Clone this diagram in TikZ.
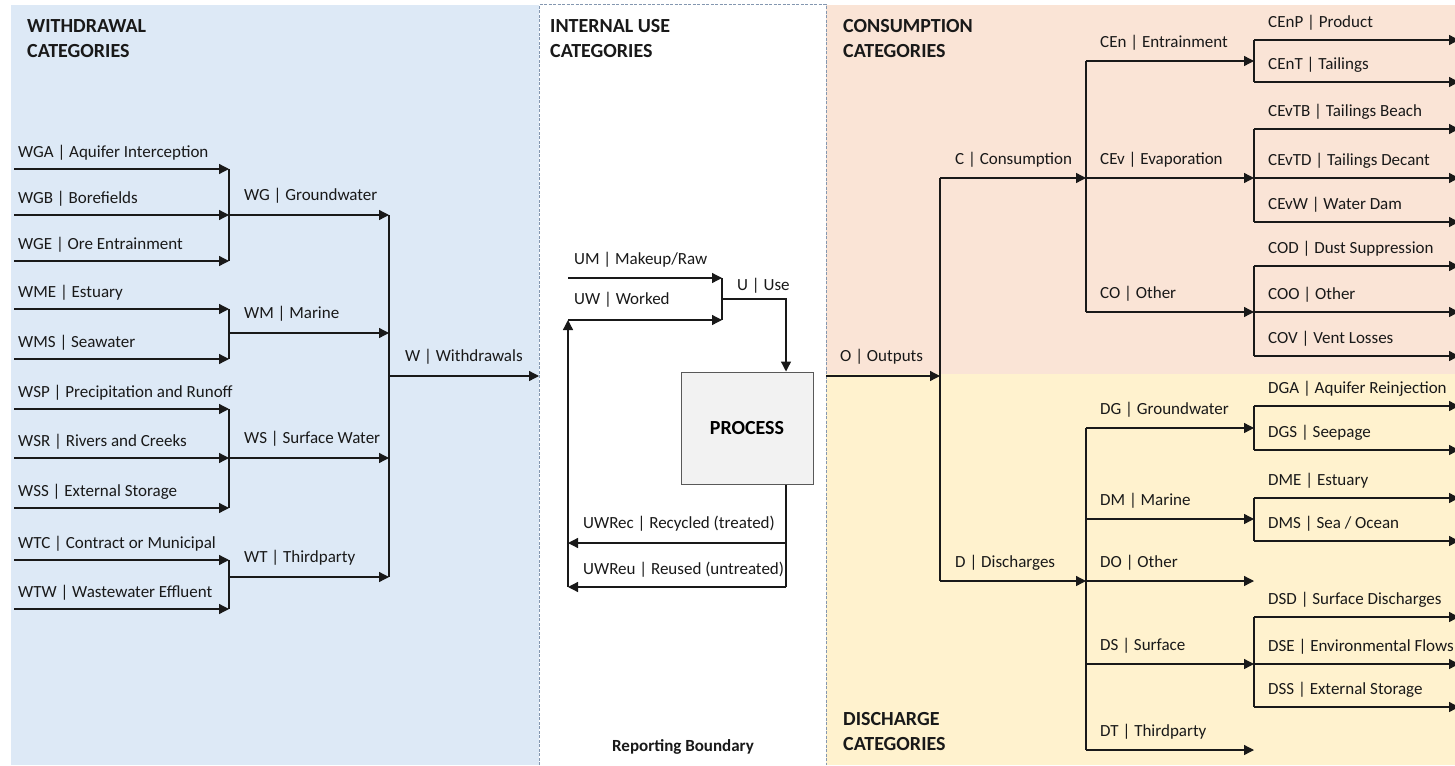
\documentclass[tikz,border=0pt]{standalone}
\usepackage{fontspec}
\setmainfont{Carlito}
\usetikzlibrary{arrows.meta}
\definecolor{wblue}{RGB}{221,233,246}
\definecolor{cpeach}{RGB}{250,228,214}
\definecolor{dyellow}{RGB}{255,242,206}
\definecolor{procgray}{RGB}{242,242,242}
\definecolor{bndgray}{RGB}{132,151,176}
\definecolor{ink}{RGB}{25,25,25}

\begin{document}
\begin{tikzpicture}[x=1pt,y=-1pt,
    flow/.style={-{Triangle[length=10pt,width=10pt]},line width=1.3pt,draw=ink},
    bar/.style={line width=1.3pt,draw=ink},
    lbl/.style={anchor=west,inner sep=0pt,text=ink,font=\fontsize{17}{19}\selectfont},
    ttl/.style={anchor=north west,align=left,inner sep=0pt,text=ink,font=\fontsize{20}{25}\selectfont\bfseries},
    procbox/.style={draw=black!65,fill=procgray,line width=1pt,minimum width=132pt,minimum height=112pt,font=\fontsize{20}{22}\selectfont\bfseries}]
    \useasboundingbox (0,0) rectangle (1455,765);
    % panels
    \fill[white] (0,0) rectangle (1455,765);
    \fill[wblue] (11,5) rectangle (539,765);
    \fill[cpeach] (826,5) rectangle (1455,374);
    \fill[dyellow] (826,374) rectangle (1455,765);
    \draw[bndgray,line width=1pt,dash pattern=on 3pt off 1.5pt] (539,765) -- (539,5) -- (826,5) -- (826,765);
    \node[ttl] (wttl) at (27,19) {WITHDRAWAL\\CATEGORIES};
    \node[ttl] (uttl) at (550,19) {INTERNAL USE\\CATEGORIES};
    \node[ttl] (cttl) at (843,19) {CONSUMPTION\\CATEGORIES};
    \node[ttl] (dttl) at (843,712) {DISCHARGE\\CATEGORIES};
    \node[font=\fontsize{17}{19}\selectfont\bfseries,text=ink] (rb) at (683,747) {Reporting Boundary};

    %Withdrawals
    \def\wleaves{169/{WGA | Aquifer Interception},215/{WGB | Borefields},261/{WGE | Ore Entrainment},309/{WME | Estuary},359/{WMS | Seawater},409/{WSP | Precipitation and Runoff},458/{WSR | Rivers and Creeks},508/{WSS | External Storage},560/{WTC | Contract or Municipal},609/{WTW | Wastewater Effluent}}
    \foreach \y/\t [count=\i from 1] in \wleaves {
      \coordinate (ws\i) at (14,\y);
      \coordinate (we\i) at (229,\y);
      \node[lbl] (wl\i) at (18,\y-16) {\t};
      \draw[flow] (ws\i) -- (we\i);}
    \draw[bar] (we1) -- (we3);
    \draw[bar] (we4) -- (we5);
    \draw[bar] (we6) -- (we8);
    \draw[bar] (we9) -- (we10);
    \def\wgroups{215/{WG | Groundwater},333/{WM | Marine},458/{WS | Surface Water},577/{WT | Thirdparty}}
    \foreach \y/\t [count=\i from 1] in \wgroups {
      \coordinate (gs\i) at (229,\y);
      \coordinate (ge\i) at (389,\y);
      \node[lbl] (gl\i) at (244,\y-19) {\t};
      \draw[flow] (gs\i) -- (ge\i);}
    \draw[bar] (ge1) -- (ge4);
    \coordinate (wsum) at (389,376);
    \coordinate (wend) at (539,376);
    \node[lbl] (wlbl) at (405,357) {W | Withdrawals};
    \draw[flow] (wsum) -- (wend);

    %Internal use
    \coordinate (um0) at (568,278);
    \coordinate (um1) at (722,278);
    \coordinate (uw0) at (568,320);
    \coordinate (uw1) at (722,320);
    \coordinate (uj) at (722,299);
    \coordinate (uc) at (786,299);
    \node[lbl] (uml) at (574,260) {UM | Makeup/Raw};
    \node[lbl] (uwl) at (574,300) {UW | Worked};
    \node[lbl] (ul) at (737,286) {U | Use};
    \node[procbox] (proc) at (747,428) {PROCESS};
    \draw[flow] (um0) -- (um1);
    \draw[flow] (uw0) -- (uw1);
    \draw[bar] (um1) -- (uw1);
    \draw[flow] (uj) -- (uc) -- (uc |- proc.north);
    \coordinate (rc) at (786,543);
    \coordinate (ru) at (786,587);
    \coordinate (rc0) at (568,543);
    \coordinate (ru0) at (568,587);
    \node[lbl] (rcl) at (583,524) {UWRec | Recycled (treated)};
    \node[lbl] (rul) at (583,570) {UWReu | Reused (untreated)};
    \draw[bar] (proc.south -| uc) -- (ru);
    \draw[flow] (rc) -- (rc0);
    \draw[flow] (ru) -- (ru0);
    \draw[flow] (ru0) -- (uw0);

    %Outputs
    \coordinate (o0) at (826,376);
    \coordinate (o1) at (940,376);
    \node[lbl] (ol) at (840,357) {O | Outputs};
    \draw[flow] (o0) -- (o1);
    \coordinate (cs) at (940,178);
    \coordinate (ce) at (1086,178);
    \coordinate (ds) at (940,581);
    \coordinate (de) at (1086,581);
    \node[lbl] (cl) at (955,160) {C | Consumption};
    \node[lbl] (dl) at (955,563) {D | Discharges};
    \draw[bar] (cs) -- (ds);
    \draw[flow] (cs) -- (ce);
    \draw[flow] (ds) -- (de);
    \def\ogroups{61/{CEn | Entrainment},178/{CEv | Evaporation},312/{CO | Other},428/{DG | Groundwater},519/{DM | Marine},581/{DO | Other},664/{DS | Surface},750/{DT | Thirdparty}}
    \foreach \y/\t [count=\i from 1] in \ogroups {
      \coordinate (os\i) at (1086,\y);
      \coordinate (oe\i) at (1254,\y);
      \node[lbl] (ogl\i) at (1100,\y-18) {\t};
      \draw[flow] (os\i) -- (oe\i);}
    \draw[bar] (os1) -- (os3);
    \draw[bar] (os4) -- (os8);
    \def\oleaves{40/{CEnP | Product},82/{CEnT | Tailings},129/{CEvTB | Tailings Beach},178/{CEvTD | Tailings Decant},222/{CEvW | Water Dam},266/{COD | Dust Suppression},312/{COO | Other},356/{COV | Vent Losses},406/{DGA | Aquifer Reinjection},450/{DGS | Seepage},498/{DME | Estuary},541/{DMS | Sea / Ocean},617/{DSD | Surface Discharges},664/{DSE | Environmental Flows},707/{DSS | External Storage}}
    \foreach \y/\t [count=\i from 1] in \oleaves {
      \coordinate (ls\i) at (1254,\y);
      \coordinate (le\i) at (1459,\y);
      \node[lbl] (oll\i) at (1268,\y-17) {\t};
      \draw[flow] (ls\i) -- (le\i);}
    \draw[bar] (ls1) -- (ls2);
    \draw[bar] (ls3) -- (ls5);
    \draw[bar] (ls6) -- (ls8);
    \draw[bar] (ls9) -- (ls10);
    \draw[bar] (ls11) -- (ls12);
    \draw[bar] (ls13) -- (ls15);
\end{tikzpicture}
\end{document}
